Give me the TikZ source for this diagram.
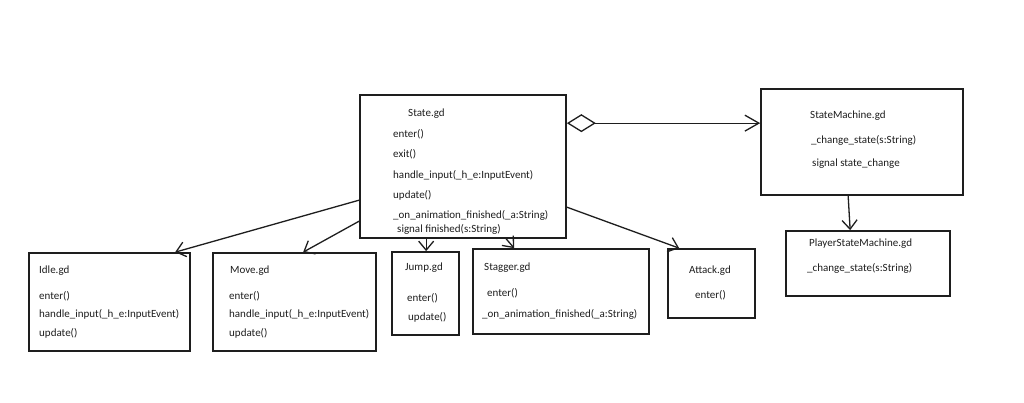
\documentclass[tikz,border=0pt]{standalone}
\usepackage{fontspec}
\setmainfont{Carlito}
\usetikzlibrary{arrows.meta}
\definecolor{ink}{HTML}{1E1E1E}
\tikzset{
  box/.style={draw=ink, line width=1.7pt, rectangle, inner sep=0pt},
  txt/.style={anchor=west, inner sep=0pt, font=\fontsize{11}{13}\selectfont, text=ink},
  arr/.style={draw=ink, line width=1.3pt, -{Straight Barb[length=9pt,width=15pt]}},
}
\begin{document}
\begin{tikzpicture}[x=1pt,y=-1pt]
\useasboundingbox[fill=white] (0,0) rectangle (1024,402);
% boxes
\node[box, minimum width=206pt, minimum height=143pt] (state) at (463,166.5) {};
\node[box, minimum width=202pt, minimum height=106pt] (sm) at (862,142) {};
\node[box, minimum width=164pt, minimum height=65pt] (psm) at (868,263.5) {};
\node[box, minimum width=161pt, minimum height=98pt] (idle) at (109.5,302) {};
\node[box, minimum width=163pt, minimum height=98pt] (move) at (294.5,302) {};
\node[box, minimum width=67pt, minimum height=83pt] (jump) at (425.5,293.5) {};
\node[box, minimum width=176pt, minimum height=85pt] (stagger) at (561,291.5) {};
\node[box, minimum width=87pt, minimum height=69pt] (attack) at (711.5,283.5) {};
% State texts
\node[txt] (s1) at (408,114) {State.gd};
\node[txt] (s2) at (393,134) {enter()};
\node[txt] (s3) at (393,154) {exit()};
\node[txt] (s4) at (393,175) {handle\_input(\_h\_e:InputEvent)};
\node[txt] (s5) at (393,195) {update()};
\node[txt] (s6) at (393,215) {\_on\_animation\_finished(\_a:String)};
\node[txt] (s7) at (397,229) {signal finished(s:String)};
% StateMachine texts
\node[txt] (m1) at (810,116) {StateMachine.gd};
\node[txt] (m2) at (811,140) {\_change\_state(s:String)};
\node[txt] (m3) at (812,164) {signal state\_change};
% PlayerStateMachine texts
\node[txt] (p1) at (809,244) {PlayerStateMachine.gd};
\node[txt] (p2) at (807,268) {\_change\_state(s:String)};
% Idle
\node[txt] (i1) at (39,271) {Idle.gd};
\node[txt] (i2) at (39,296) {enter()};
\node[txt] (i3) at (39,314) {handle\_input(\_h\_e:InputEvent)};
\node[txt] (i4) at (39,333) {update()};
% Move
\node[txt] (v1) at (230,271) {Move.gd};
\node[txt] (v2) at (229,296) {enter()};
\node[txt] (v3) at (229,314) {handle\_input(\_h\_e:InputEvent)};
\node[txt] (v4) at (229,333) {update()};
% Jump
\node[txt] (j1) at (405,268) {Jump.gd};
\node[txt] (j2) at (407,298) {enter()};
\node[txt] (j3) at (408,317) {update()};
% Stagger
\node[txt] (g1) at (484,268) {Stagger.gd};
\node[txt] (g2) at (487,293) {enter()};
\node[txt] (g3) at (482,314) {\_on\_animation\_finished(\_a:String)};
% Attack
\node[txt] (a1) at (689,271) {Attack.gd};
\node[txt] (a2) at (695,295) {enter()};
% connectors
\draw[arr] ([yshift=-106pt]state.north west) -- ([xshift=147pt]idle.north west);
\draw[arr] ([yshift=-127pt]state.north west) -- ([xshift=91pt]move.north west);
\draw[arr] ([xshift=67pt]state.south west) -- ([xshift=35pt]jump.north west);
\draw[arr] ([xshift=147pt]state.south west) -- ([xshift=42pt]stagger.north west);
\draw[arr] ([yshift=-113pt]state.north east) -- ([xshift=12pt]attack.north west);
\draw[draw=ink, line width=1.3pt, {Diamond[open,length=29pt,width=18pt]}-{Straight Barb[length=14pt,width=16pt]}] ([yshift=-29pt]state.north east) -- ([yshift=-35pt]sm.north west);
\draw[arr] ([xshift=88pt]sm.south west) -- ([xshift=65pt]psm.north west);
\end{tikzpicture}
\end{document}
